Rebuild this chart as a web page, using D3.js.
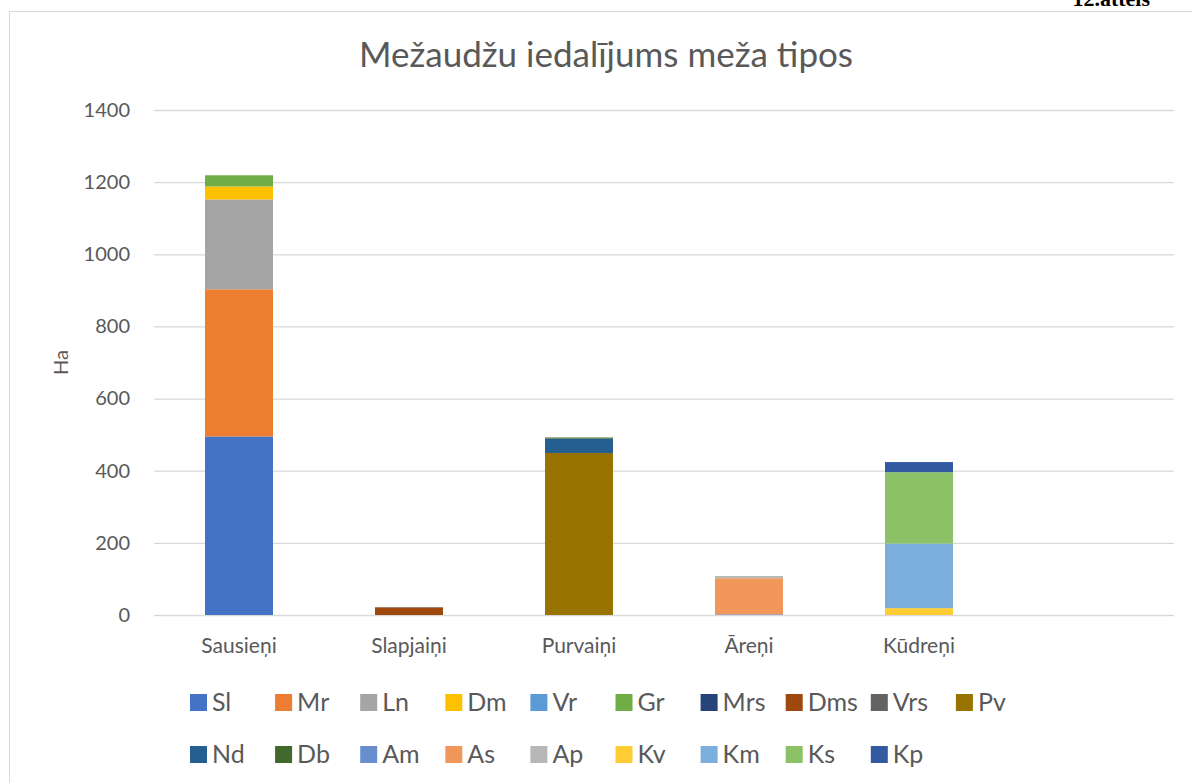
<!DOCTYPE html>
<html>
<head>
<meta charset="utf-8">
<script src="https://cdn.jsdelivr.net/npm/d3@7"></script>
<style>
  body { margin: 0; background: #fff; }
  svg { display: block; }
  text { font-family: Lato, "Open Sans", sans-serif; fill: #595959; }
</style>
</head>
<body>
<div id="chart"></div>
<script>
// categories (last one is an empty slot, as in the sheet)
var categories = ["Sausieņi", "Slapjaiņi", "Purvaiņi", "Āreņi", "Kūdreņi", ""];

var seriesNames = ["Sl", "Mr", "Ln", "Dm", "Vr", "Gr", "Mrs", "Dms", "Vrs", "Pv",
                   "Nd", "Db", "Am", "As", "Ap", "Kv", "Km", "Ks", "Kp"];

var seriesColors = ["#4472C4", "#ED7D31", "#A5A5A5", "#FFC000", "#5B9BD5", "#70AD47",
                    "#264478", "#9E480E", "#636363", "#997300", "#255E91", "#43682B",
                    "#698ED0", "#F1975A", "#B7B7B7", "#FFCD33", "#7CAFDD", "#8CC168", "#335AA1"];

// ha per forest type, one row per series
var sl  = [495, 0, 0, 0, 0];
var mr  = [408, 0, 0, 0, 0];
var ln  = [249, 0, 0, 0, 0];
var dm  = [36, 0, 0, 0, 0];
var vr  = [0, 0, 0, 0, 0];
var gr  = [31, 0, 0, 0, 0];
var mrs = [0, 0, 0, 0, 0];
var dms = [0, 21, 0, 0, 0];
var vrs = [0, 1, 0, 0, 0];
var pv  = [0, 0, 449, 0, 0];
var nd  = [0, 0, 40, 0, 0];
var db  = [0, 0, 3, 0, 0];
var am  = [0, 0, 0, 2, 0];
var as  = [0, 0, 0, 100, 0];
var ap  = [0, 0, 0, 6, 0];
var kv  = [0, 0, 0, 0, 19];
var km  = [0, 0, 0, 0, 179];
var ks  = [0, 0, 0, 0, 198];
var kp  = [0, 0, 0, 0, 28];

var yTicks = [0, 200, 400, 600, 800, 1000, 1200, 1400];

var values = [sl, mr, ln, dm, vr, gr, mrs, dms, vrs, pv, nd, db, am, as, ap, kv, km, ks, kp];

var W = 1192, H = 783;
var margin = {top: 110, left: 154, right: 18, bottom: 168};

var svg = d3.select("#chart").append("svg")
  .attr("width", W)
  .attr("height", H);

// chart frame, runs past the bottom/right edge of the picture
svg.append("rect")
  .attr("x", 9.5).attr("y", 11.5)
  .attr("width", W + 20).attr("height", H + 20)
  .attr("fill", "none")
  .attr("stroke", "#d9d9d9");

// caption of the page above, only its lower part shows
svg.append("text")
  .attr("x", 1150).attr("y", 6)
  .attr("text-anchor", "end")
  .style("font-family", "'Liberation Serif', serif")
  .style("font-weight", "bold")
  .style("font-size", "22px")
  .style("fill", "#000")
  .text("12.attēls");

var g = svg.append("g")
  .attr("transform", "translate(" + margin.left + "," + margin.top + ")");

var width = W - margin.left - margin.right,
    height = H - margin.top - margin.bottom;

var x = d3.scaleBand().domain(d3.range(categories.length))
  .range([0, width]).paddingInner(0.6).paddingOuter(0.3);

var y = d3.scaleLinear().domain([0, 1400]).range([height, 0]);

// gridlines + tick labels
var yAxis = d3.axisLeft(y).tickValues(yTicks).tickSize(-width).tickPadding(24)
  .tickFormat(d3.format("d"));
g.append("g").call(yAxis)
  .call(function (a) {
    a.select(".domain").remove();
    a.selectAll("line").attr("stroke", "#d9d9d9").attr("stroke-width", 1.3);
    a.selectAll("text").style("font-size", "20px").style("fill", "#595959")
      .style("font-family", "Lato, sans-serif");
  });

// stacked bars
var stackRows = categories.slice(0, 5).map(function (c, i) {
  var row = {i: i};
  seriesNames.forEach(function (s, k) { row[s] = values[k][i]; });
  return row;
});
var stacked = d3.stack().keys(seriesNames)(stackRows);

g.selectAll("g.series").data(stacked).enter().append("g")
  .attr("class", "series")
  .attr("fill", function (d, k) { return seriesColors[k]; })
  .selectAll("rect").data(function (d) { return d; }).enter().append("rect")
  .attr("x", function (d) { return x(d.data.i); })
  .attr("width", x.bandwidth())
  .attr("y", function (d) { return y(d[1]); })
  .attr("height", function (d) { return y(d[0]) - y(d[1]); });

// category labels
g.selectAll("text.cat").data(categories.slice(0, 5)).enter().append("text")
  .attr("class", "cat")
  .attr("x", function (d, i) { return x(i) + x.bandwidth() / 2; })
  .attr("y", height + 38)
  .attr("text-anchor", "middle")
  .style("font-size", "21px")
  .text(function (d) { return d; });

// y axis title
svg.append("text")
  .attr("transform", "translate(68," + (margin.top + height / 2) + ") rotate(-90)")
  .attr("text-anchor", "middle")
  .style("font-size", "20px")
  .text("Ha");

// chart title
svg.append("text")
  .attr("x", 606).attr("y", 67)
  .attr("text-anchor", "middle")
  .style("font-size", "35px")
  .text("Mežaudžu iedalījums meža tipos");

// legend, two rows
var legend = svg.selectAll("g.leg").data(seriesNames).enter().append("g")
  .attr("class", "leg")
  .attr("transform", function (d, k) {
    var row = k < 10 ? 0 : 1, col = k < 10 ? k : k - 10;
    return "translate(" + (190 + col * 85.1) + "," + (694 + row * 52) + ")";
  });

legend.append("rect")
  .attr("width", 17).attr("height", 17)
  .attr("fill", function (d, k) { return seriesColors[k]; });

legend.append("text")
  .attr("x", 22).attr("y", 17)
  .style("font-size", "25px")
  .text(function (d) { return d; });
</script>
</body>
</html>
